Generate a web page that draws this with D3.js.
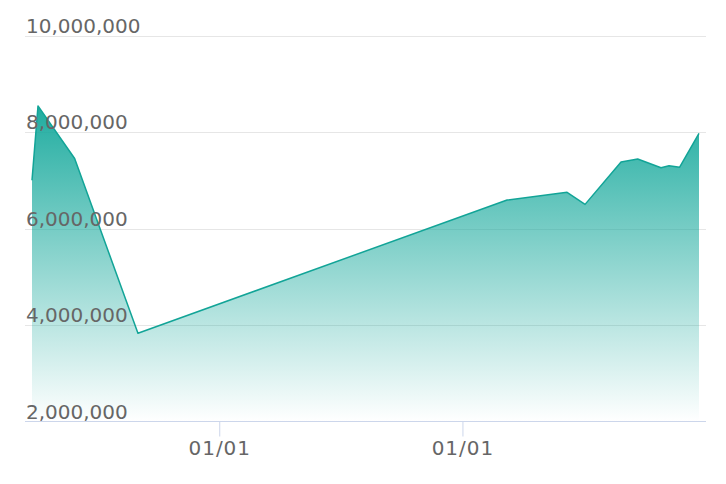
<!DOCTYPE html>
<html>
<head>
<meta charset="utf-8">
<script src="https://cdn.jsdelivr.net/npm/d3@7"></script>
<style>
  html, body { margin: 0; padding: 0; background: #fff; }
  svg { display: block; font-family: "DejaVu Sans", sans-serif; }
</style>
</head>
<body>
<svg id="chart" width="726" height="484"></svg>
<script>
// ---- data ----
const dates = [
  "2018-03-26", "2018-04-04", "2018-05-29", "2018-09-01",
  "2020-03-08", "2020-06-06", "2020-07-03", "2020-08-26",
  "2020-09-20", "2020-10-25", "2020-11-06", "2020-11-22", "2020-12-21"
];
const values = [
  7000000, 8540000, 7450000, 3830000,
  6590000, 6750000, 6500000, 7380000,
  7440000, 7260000, 7300000, 7270000, 7970000
];
const yTicks = [2000000, 4000000, 6000000, 8000000, 10000000];

// ---- setup ----
const svg = d3.select("#chart");
const parse = d3.utcParse("%Y-%m-%d");
const data = dates.map((d, i) => ({ date: parse(d), value: values[i] }));

const plotLeft = 25, plotRight = 706;
const x = d3.scaleUtc()
  .domain(d3.extent(data, d => d.date))
  .range([32, 699]);
const y = d3.scaleLinear()
  .domain([2000000, 10000000])
  .range([421.5, 35.5]);

// gradient
const defs = svg.append("defs");
const grad = defs.append("linearGradient")
  .attr("id", "fillGrad")
  .attr("x1", 0).attr("y1", 0).attr("x2", 0).attr("y2", 1);
grad.append("stop").attr("offset", "0%").attr("stop-color", "#14a89b").attr("stop-opacity", 0.95);
grad.append("stop").attr("offset", "100%").attr("stop-color", "#14a89b").attr("stop-opacity", 0.0);

// gridlines
svg.append("g")
  .selectAll("line")
  .data(yTicks.filter(t => t !== 2000000))
  .join("line")
  .attr("x1", plotLeft).attr("x2", plotRight)
  .attr("y1", d => Math.round(y(d)) + 0.5)
  .attr("y2", d => Math.round(y(d)) + 0.5)
  .attr("stroke", "#e6e6e6")
  .attr("stroke-width", 1);

// area
const area = d3.area()
  .x(d => x(d.date))
  .y0(y(2000000))
  .y1(d => y(d.value));
svg.append("path")
  .datum(data)
  .attr("d", area)
  .attr("fill", "url(#fillGrad)");

// line
const line = d3.line()
  .x(d => x(d.date))
  .y(d => y(d.value));
svg.append("path")
  .datum(data)
  .attr("d", line)
  .attr("fill", "none")
  .attr("stroke", "#12a497")
  .attr("stroke-width", 1.5)
  .attr("stroke-linejoin", "round");

// y labels
svg.append("g")
  .selectAll("text")
  .data(yTicks)
  .join("text")
  .attr("x", 26)
  .attr("y", d => y(d) - 3)
  .attr("fill", "#666666")
  .attr("font-size", 20)
  .text(d => d3.format(",")(d));

// x axis
const xAxis = d3.axisBottom(x)
  .ticks(d3.utcYear.every(1))
  .tickFormat(d3.utcFormat("%m/%d"))
  .tickSize(15)
  .tickPadding(4);
const gx = svg.append("g")
  .attr("transform", "translate(0,421.5)")
  .call(xAxis);
gx.select(".domain").remove();
gx.selectAll(".tick line").attr("stroke", "#ccd6eb");
gx.selectAll(".tick text")
  .attr("fill", "#666666")
  .attr("font-size", 20)
  .attr("letter-spacing", "1px")
  .attr("font-family", "DejaVu Sans, sans-serif");
svg.append("line")
  .attr("x1", plotLeft).attr("x2", plotRight)
  .attr("y1", 421.5).attr("y2", 421.5)
  .attr("stroke", "#ccd6eb")
  .attr("stroke-width", 1);
</script>
</body>
</html>
